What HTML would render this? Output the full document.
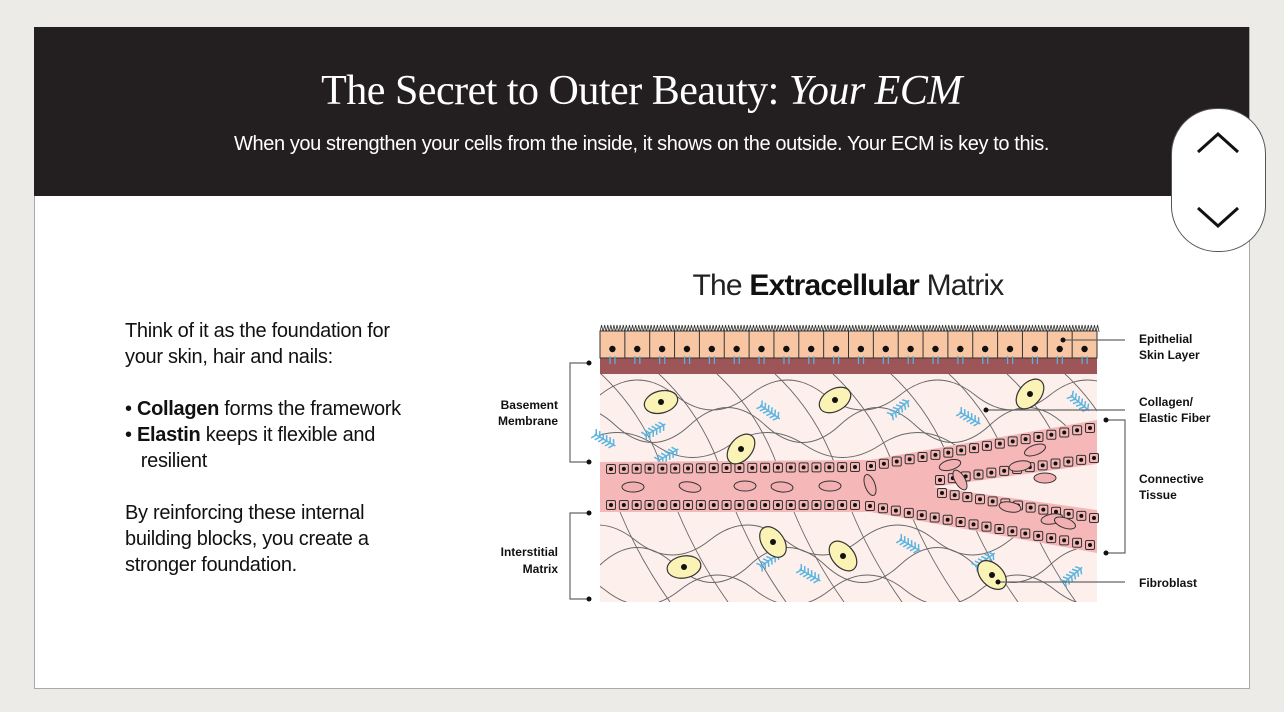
<!DOCTYPE html>
<html><head><meta charset="utf-8"><style>
body{margin:0;width:1284px;height:712px;background:#ecebe7;position:relative;overflow:hidden;font-family:"Liberation Sans",sans-serif}
#panel{position:absolute;left:34px;top:27px;width:1214px;height:660px;background:#fff;border:1px solid #aaa}
#hdr{position:absolute;left:34px;top:27px;width:1215px;height:169px;background:#231f20;color:#fff;text-align:center}
#hdr h1{margin:0;position:absolute;top:40px;width:100%;font-family:"Liberation Serif",serif;font-weight:normal;font-size:42px;letter-spacing:-0.5px}
#hdr p{margin:0;position:absolute;top:106px;width:100%;font-size:20px;letter-spacing:-0.4px}
#btn{position:absolute;left:1171px;top:108px;width:93px;height:142px;background:#fff;border:1px solid #555;border-radius:46px}
#left{position:absolute;left:125px;top:318px;font-size:20px;line-height:26px;color:#111;letter-spacing:-0.3px}
svg{position:absolute;left:0;top:0}
</style></head><body>
<div id="panel"></div>
<div id="hdr"><h1>The Secret to Outer Beauty: <i>Your ECM</i></h1><p>When you strengthen your cells from the inside, it shows on the outside. Your ECM is key to this.</p></div>
<div id="btn"><svg width="93" height="142"><polyline points="26,43 46,25 66,43" fill="none" stroke="#111" stroke-width="3"/><polyline points="26,99 46,117 66,99" fill="none" stroke="#111" stroke-width="3"/></svg></div>
<div id="left">Think of it as the foundation for<br>your skin, hair and nails:<br><br>• <b>Collagen</b> forms the framework<br>• <b>Elastin</b> keeps it flexible and<br>&nbsp;&nbsp;&nbsp;resilient<br><br>By reinforcing these internal<br>building blocks, you create a<br>stronger foundation.</div>
<svg id="d" width="1284" height="712" style="pointer-events:none">
<defs><clipPath id="c"><rect x="600" y="373" width="497" height="229"/></clipPath></defs>
<text x="848" y="295" text-anchor="middle" font-size="30" fill="#222" letter-spacing="-0.8">The <tspan font-weight="bold" fill="#111">Extracellular</tspan> Matrix</text>
<rect x="600" y="373" width="497" height="229" fill="#fdf0ec"/>
<g id="fib" fill="none" stroke="#666" stroke-width="0.9" clip-path="url(#c)"></g>
<g id="el"></g>
<path d="M600,462 L870,460 L1097,420 L1097,464 L933,487 L1097,510 L1097,553 L870,512 L600,512 Z" fill="#f6b7b9"/>
<g id="ves"></g>
<g id="fb"></g>
<rect x="600" y="358" width="497" height="16" fill="#9e5558"/>
<g id="epi"></g>
<g font-size="12" font-weight="bold" fill="#111">
<text x="558" y="409" text-anchor="end">Basement</text><text x="558" y="425" text-anchor="end">Membrane</text>
<text x="558" y="556" text-anchor="end">Interstitial</text><text x="558" y="573" text-anchor="end">Matrix</text>
<text x="1139" y="343">Epithelial</text><text x="1139" y="359">Skin Layer</text>
<text x="1139" y="406">Collagen/</text><text x="1139" y="422">Elastic Fiber</text>
<text x="1139" y="483">Connective</text><text x="1139" y="499">Tissue</text>
<text x="1139" y="587">Fibroblast</text>
</g>
<g stroke="#666" stroke-width="1.2" fill="none">
<polyline points="589,363 570,363 570,462 589,462"/><polyline points="589,513 570,513 570,599 589,599"/>
<polyline points="1106,420 1125,420 1125,553 1106,553"/>
<line x1="1063" y1="340" x2="1125" y2="340"/><line x1="986" y1="410" x2="1125" y2="410"/><line x1="998" y1="582" x2="1125" y2="582"/>
</g>
<g fill="#111"><circle cx="589" cy="363" r="2.5"/><circle cx="589" cy="462" r="2.5"/><circle cx="589" cy="513" r="2.5"/><circle cx="589" cy="599" r="2.5"/><circle cx="1106" cy="420" r="2.5"/><circle cx="1106" cy="553" r="2.5"/><circle cx="1063" cy="340" r="2.5"/><circle cx="986" cy="410" r="2.5"/><circle cx="998" cy="582" r="2.5"/></g>
</svg>
<script>
const NS="http://www.w3.org/2000/svg";
function E(p,t,a){const e=document.createElementNS(NS,t);for(const k in a)e.setAttribute(k,a[k]);document.getElementById(p).appendChild(e);return e;}
let z="M600,332";for(let x=600;x<1097;x+=3.1){z+=` L${x+1.55},325 L${x+3.1},332`;}
E("epi","path",{d:z,fill:"none",stroke:"#333","stroke-width":"0.8"});
E("epi","rect",{x:600,y:331,width:497,height:27,fill:"#f9c6a4",stroke:"#333","stroke-width":"1"});
for(let i=0;i<20;i++){const x=600+i*24.85;E("epi","line",{x1:x,y1:331,x2:x,y2:358,stroke:"#333"});
E("epi","circle",{cx:x+12.4,cy:349,r:3.2,fill:"#111"});
E("epi","line",{x1:x+10,y1:356,x2:x+10,y2:364,stroke:"#5ab4e0","stroke-width":"1.2"});E("epi","line",{x1:x+15,y1:356,x2:x+15,y2:364,stroke:"#5ab4e0","stroke-width":"1.2"});}
const fib=[[395,30,0],[425,35,60],[445,25,20],[540,30,40],[565,35,0],[590,30,70]];
fib.forEach(([y,a,o],j)=>{let d=`M${600-o},${y}`;const w=150;for(let x=600-o;x<1120;x+=w){d+=` Q${x+w/4},${y-a} ${x+w/2},${y} T${x+w},${y}`;}E("fib","path",{d});});
for(let i=0;i<9;i++){const x=600+i*58;E("fib","path",{d:`M${x},373 Q${x+40},410 ${x+60},462`});E("fib","path",{d:`M${x+20},512 Q${x+40},560 ${x+70},602`});}
[[655,430,-30],[770,412,35],[900,408,-40],[970,418,30],[1080,403,40],[605,440,30],[770,560,-35],[810,575,30],[910,545,30],[985,560,-35],[1073,575,-40],[668,455,-30]].forEach(([x,y,r])=>{
const g=E("el","g",{transform:`translate(${x},${y}) rotate(${r})`,stroke:"#5ab4e0","stroke-width":"1.5",fill:"none"});
let s="";for(let k=-10;k<=10;k+=4){s+=`M${k},0 l-3,-5 M${k},0 l-3,5 `;}
const p=document.createElementNS(NS,"path");p.setAttribute("d","M-12,0 L12,0 "+s);g.appendChild(p);});
function row(x1,y1,x2,y2,n){for(let i=0;i<n;i++){const t=i/(n-1),x=x1+(x2-x1)*t,y=y1+(y2-y1)*t;
E("ves","rect",{x:x-4.5,y:y-4.5,width:9,height:9,rx:1.5,fill:"#f3b6b4",stroke:"#333","stroke-width":"1"});E("ves","circle",{cx:x,cy:y,r:2,fill:"#111"});}}
row(611,469,855,467,20);row(871,466,1090,428,18);row(611,505,855,505,20);row(870,506,1090,545,18);
row(940,480,1094,458,13);row(942,493,1094,518,13);
[[633,487,0],[690,487,10],[745,486,0],[782,487,5],[830,486,0],[870,485,70],[960,480,60],[1020,466,-10],[1035,450,-20],[1045,478,0],[1010,507,10],[1052,519,-10],[1065,523,20],[950,465,-15]].forEach(([x,y,r])=>
E("ves","ellipse",{cx:x,cy:y,rx:11,ry:5,transform:`rotate(${r} ${x} ${y})`,fill:"#f2b0b2",stroke:"#333","stroke-width":"1"}));
[[661,402,-15],[835,400,-30],[1030,394,-50],[741,449,-50],[684,567,-10],[773,542,55],[843,556,50],[992,575,45]].forEach(([x,y,r])=>{
E("fb","ellipse",{cx:x,cy:y,rx:17,ry:11,transform:`rotate(${r} ${x} ${y})`,fill:"#fbf3b5",stroke:"#333","stroke-width":"1.2"});E("fb","circle",{cx:x,cy:y,r:3,fill:"#111"});});
</script>
</body></html>
